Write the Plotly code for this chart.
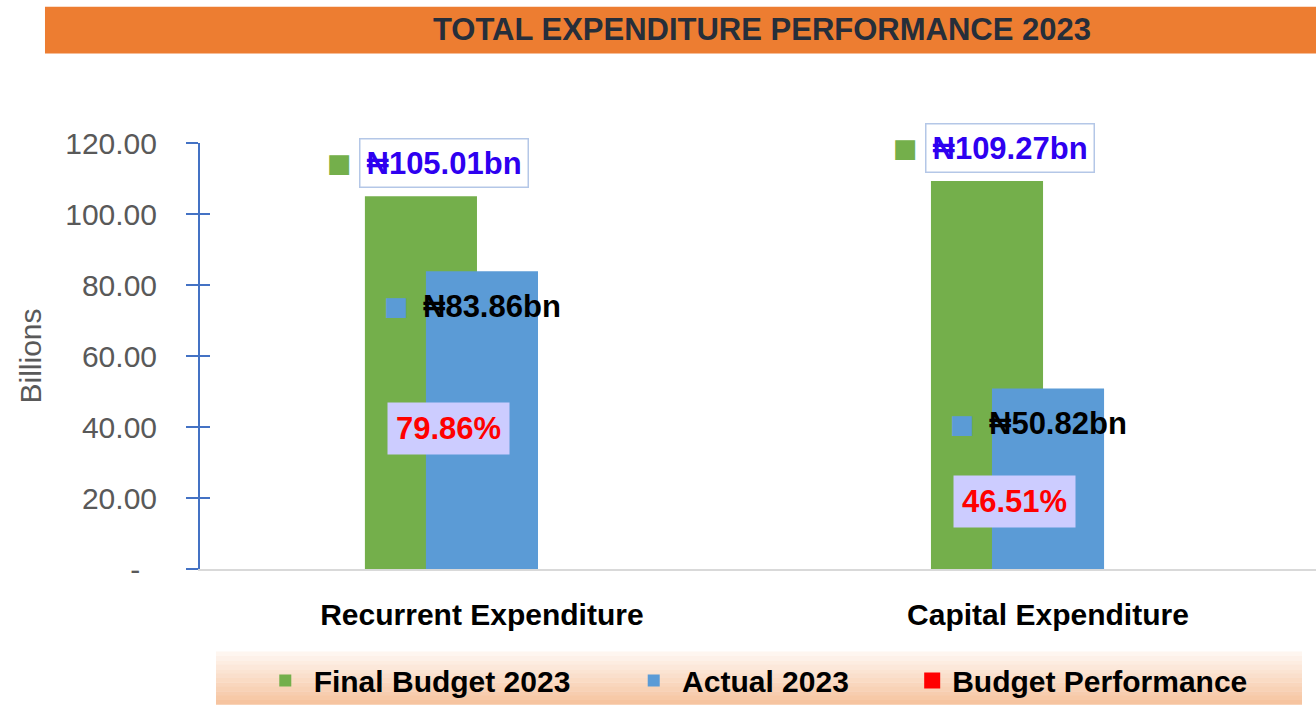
import plotly.graph_objects as go

categories = ["Recurrent Expenditure", "Capital Expenditure"]
final_budget = [105.01, 109.27]
actual = [83.86, 50.82]
performance = [79.86, 46.51]
tick_vals = [0, 20, 40, 60, 80, 100, 120]
tick_text = ["-\u00a0\u00a0", "20.00", "40.00", "60.00", "80.00", "100.00", "120.00"]

FONT = "Liberation Sans, Arial, DejaVu Sans, sans-serif"
GREEN = "#74AF4B"
BLUE = "#5B9BD6"
NB = "\u00a0"

fig = go.Figure()
fig.add_trace(go.Bar(
    x=categories, y=final_budget, name=NB + "<b>Final Budget 2023</b>" + NB * 7,
    marker=dict(color=GREEN, line=dict(width=0)),
    offset=-0.2067, width=0.198, hoverinfo="y",
))
fig.add_trace(go.Bar(
    x=categories, y=actual, name=NB + "<b>Actual 2023</b>" + NB * 7,
    marker=dict(color=BLUE, line=dict(width=0)),
    offset=-0.0989, width=0.198, hoverinfo="y",
))
fig.add_trace(go.Scatter(
    x=categories, y=performance, name="<b>Budget Performance</b>", yaxis="y2",
    mode="markers", marker=dict(symbol="square", color="#FF0000", size=16),
    hoverinfo="y",
))
fig.add_trace(go.Scatter(x=categories, y=[0, 0], yaxis="y3", mode="none",
                         showlegend=False, hoverinfo="skip"))

annotations = []
for c, v in zip(categories, final_budget):
    annotations.append(dict(
        x=c, y=v, xref="x", yref="y", xshift=-38, yshift=33,
        text=f"<b>\u20a6{v:.2f}bn</b>", showarrow=False,
        font=dict(family=FONT, size=31, color="#2E00F0"),
        bgcolor="white", bordercolor="#B4C7E7", borderwidth=1.5, borderpad=6,
    ))
    annotations.append(dict(
        x=c, y=v, xref="x", yref="y", xshift=-142, yshift=33,
        text="\u25a0", showarrow=False,
        font=dict(family="DejaVu Sans", size=26, color=GREEN),
    ))
for c, v in zip(categories, actual):
    annotations.append(dict(
        x=c, y=v, xref="x", yref="y", xshift=10, yshift=-35,
        text=f"<b>\u20a6{v:.2f}bn</b>", showarrow=False,
        font=dict(family=FONT, size=31, color="black"),
    ))
    annotations.append(dict(
        x=c, y=v, xref="x", yref="y", xshift=-85, yshift=-35,
        text="\u25a0", showarrow=False,
        font=dict(family="DejaVu Sans", size=26, color=BLUE),
    ))
for c, v in zip(categories, performance):
    annotations.append(dict(
        x=c, y=v, xref="x", yref="y2", xshift=-33,
        text=f"<b>{v:.2f}%</b>", showarrow=False,
        font=dict(family=FONT, size=31, color="#FF0000"),
        bgcolor="#CCCCFF", borderpad=8,
    ))

shapes = [dict(
    type="rect", xref="paper", yref="paper", x0=-0.1389, x1=1.0, y0=1.2103, y1=1.3201,
    fillcolor="#ED7D31", line=dict(width=0), layer="below",
)]
# legend band gradient
top = (254, 246, 240)
bot = (246, 196, 160)
n = 12
y_top, y_bot = -0.19393, -0.31776
for i in range(n):
    col = tuple(round(top[k] + (bot[k] - top[k]) * i / (n - 1)) for k in range(3))
    shapes.append(dict(
        type="rect", xref="paper", yref="paper", x0=0.01434, x1=0.98746,
        y0=y_top + (y_bot - y_top) * (i + 1) / n - 0.001, y1=y_top + (y_bot - y_top) * i / n,
        fillcolor="rgb(%d,%d,%d)" % col, line=dict(width=0), layer="below",
    ))

fig.update_layout(
    width=1316, height=707,
    margin=dict(l=200, r=0, t=143, b=136),
    paper_bgcolor="white", plot_bgcolor="white",
    barmode="overlay",
    title=dict(
        text="<b>TOTAL EXPENDITURE PERFORMANCE 2023</b>",
        xref="container", yref="container", x=0.579, y=0.959,
        xanchor="center", yanchor="middle",
        font=dict(family=FONT, size=31, color="#262E3A"),
    ),
    xaxis=dict(
        range=[-0.498, 1.4735], showgrid=False, zeroline=False,
        showline=True, linecolor="#D9D9D9", linewidth=2,
        ticks="", ticklabelstandoff=18,
        tickfont=dict(family=FONT, size=30, color="black"),
        tickprefix="<b>", ticksuffix="</b>",
    ),
    yaxis=dict(
        range=[0, 120], tickvals=tick_vals, ticktext=tick_text,
        showgrid=False, zeroline=False,
        showline=True, linecolor="#4472C4", linewidth=2,
        ticks="outside", ticklen=12, tickwidth=2, tickcolor="#4472C4",
        ticklabelstandoff=23,
        tickfont=dict(family=FONT, size=30, color="#595959"),
        title=dict(text="Billions", standoff=15,
                   font=dict(family=FONT, size=30, color="#595959")),
    ),
    yaxis2=dict(overlaying="y", range=[15.45, 210.96], visible=False),
    yaxis3=dict(
        overlaying="y", anchor="x", side="left", range=[0, 120],
        tickvals=tick_vals, showticklabels=False, showgrid=False, zeroline=False,
        showline=False, ticks="inside", ticklen=10, tickwidth=2, tickcolor="#4472C4",
    ),
    legend=dict(
        orientation="h", x=0.0585, xanchor="left", y=-0.262, yanchor="middle",
        bgcolor="rgba(0,0,0,0)", font=dict(family=FONT, size=30, color="black"),
        itemclick=False, itemdoubleclick=False,
    ),
    annotations=annotations,
    shapes=shapes,
    showlegend=True,
)

fig.write_html("out.html", config={"displayModeBar": False},
               post_script="document.body.style.margin='0px';")
